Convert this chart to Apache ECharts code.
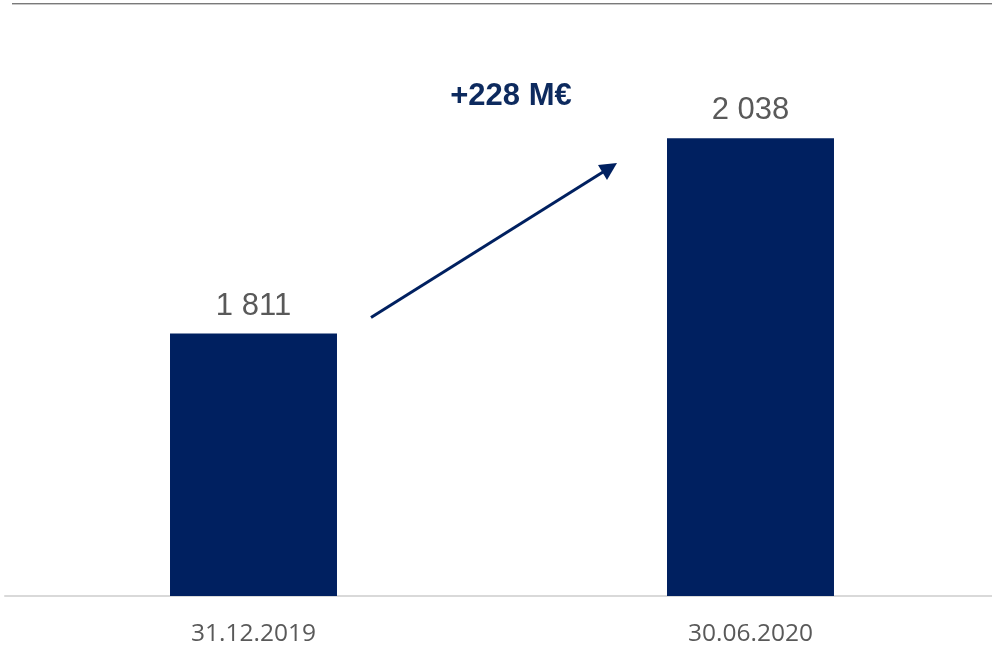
<!DOCTYPE html>
<html>
<head>
<meta charset="utf-8">
<script src="https://cdn.jsdelivr.net/npm/echarts@6/dist/echarts.min.js"></script>
<style>
  html, body { margin: 0; padding: 0; background: #ffffff; }
  #chart { width: 992px; height: 648px; }
</style>
</head>
<body>
<div id="chart"></div>
<script>
// Balance at two reporting dates (M€)
const categories = ['31.12.2019', '30.06.2020'];
const values = [1811, 2038];
const changeText = '+228 M€';

const NAVY = '#002060';

// French-style thousands separator: "1 811"
function fmt(v) {
  return String(v).replace(/\B(?=(\d{3})+(?!\d))/g, ' ');
}

const chart = echarts.init(document.getElementById('chart'), null, { renderer: 'canvas' });

chart.setOption({
  animation: false,
  backgroundColor: '#ffffff',
  grid: { left: 5, width: 994, top: 42, bottom: 52, outerBoundsMode: 'none', containLabel: false },
  xAxis: {
    type: 'category',
    data: categories,
    axisLine: { show: true, lineStyle: { color: '#d9d9d9', width: 2 } },
    axisTick: { show: false },
    axisLabel: {
      margin: 26,
      fontFamily: 'Open Sans',
      fontSize: 24.5,
      color: '#595959'
    }
  },
  yAxis: {
    type: 'value',
    min: 1506,
    max: 2150,
    show: false,
    splitLine: { show: false }
  },
  series: [{
    type: 'bar',
    data: values,
    barWidth: '33.6%',
    itemStyle: { color: NAVY },
    label: {
      show: true,
      position: 'top',
      distance: 12,
      fontFamily: 'Liberation Sans',
      fontSize: 31,
      color: '#595959',
      formatter: p => fmt(p.value)
    }
  }],
  graphic: [
    // header rule
    { type: 'line', shape: { x1: 12, y1: 3.5, x2: 992, y2: 3.5 }, style: { stroke: '#7a7a7a', lineWidth: 1 } },
    { type: 'line', shape: { x1: 12, y1: 4.5, x2: 992, y2: 4.5 }, style: { stroke: '#c8c8c8', lineWidth: 1 } },
    // growth arrow
    { type: 'line', shape: { x1: 371, y1: 317.5, x2: 607, y2: 169.5 }, style: { stroke: NAVY, lineWidth: 3 } },
    { type: 'polygon', shape: { points: [[617, 163], [598, 165], [607, 180]] }, style: { fill: NAVY } },
    // change annotation
    {
      type: 'text',
      x: 511, y: 96,
      style: {
        text: changeText,
        fontFamily: 'Liberation Sans',
        fontWeight: 'bold',
        fontSize: 31,
        fill: '#0d2a5e',
        align: 'center',
        verticalAlign: 'middle'
      }
    }
  ]
});
</script>
</body>
</html>
